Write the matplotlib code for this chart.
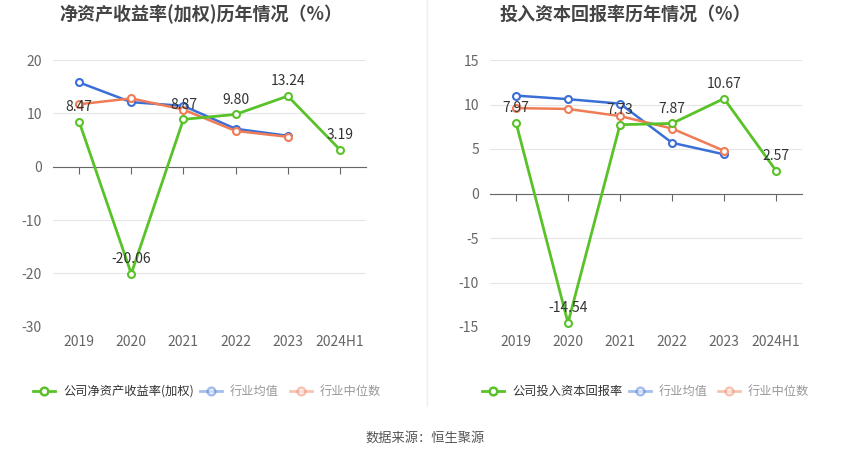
import numpy as np
import matplotlib
matplotlib.use("Agg")
import matplotlib.pyplot as plt
from matplotlib.lines import Line2D
import matplotlib.transforms as mtransforms

plt.rcParams['font.family'] = ['Noto Sans CJK SC', 'DejaVu Sans']
plt.rcParams['axes.unicode_minus'] = False

years = ['2019', '2020', '2021', '2022', '2023', '2024H1']

# 净资产收益率(加权)
roe_company = [8.47, -20.06, 8.87, 9.80, 13.24, 3.19]
roe_mean = [15.8, 12.1, 11.4, 7.1, 5.8]
roe_median = [11.7, 12.8, 10.7, 6.7, 5.6]

# 投入资本回报率
roic_company = [7.97, -14.54, 7.73, 7.87, 10.67, 2.57]
roic_mean = [11.0, 10.6, 10.1, 5.7, 4.4]
roic_median = [9.6, 9.5, 8.7, 7.3, 4.8]

GREEN = '#5ac229'
BLUE = '#3a6fd8'
ORANGE = '#f07c56'

W, H = 850, 459
fig = plt.figure(figsize=(W / 100, H / 100), dpi=100)


def px_axes(x0, y0, x1, y1):
    return fig.add_axes([x0 / W, 1 - y1 / H, (x1 - x0) / W, (y1 - y0) / H])


def draw(ax, company, mean, median, ylim, step, title, name, tcx, leg_x):
    x = np.arange(len(years))
    ax.set_xlim(-0.5, len(years) - 0.5)
    ax.set_ylim(*ylim)
    ax.set_yticks(np.arange(ylim[0], ylim[1] + 0.1, step))
    ax.grid(axis='y', color='#e6e6e6', lw=0.8)
    ax.set_axisbelow(True)
    for s in ['top', 'right', 'left']:
        ax.spines[s].set_visible(False)
    ax.spines['bottom'].set_position(('data', 0))
    ax.spines['bottom'].set_color('#666666')
    ax.set_xticks(x)
    ax.set_xticklabels([])
    ax.tick_params(axis='x', length=5, color='#666666', direction='out')
    ax.tick_params(axis='y', length=0, labelcolor='#666666', labelsize=10, pad=8)
    trans = mtransforms.blended_transform_factory(ax.transData, ax.transAxes)
    for i, lab in enumerate(years):
        ax.text(i, -0.03, lab, transform=trans, ha='center', va='top',
                fontsize=10, color='#666666')

    mk = dict(marker='o', markersize=5, markerfacecolor='white', markeredgewidth=1.5)
    ax.plot(x[:len(mean)], mean, color=BLUE, lw=1.8, zorder=3, **mk)
    ax.plot(x[:len(median)], median, color=ORANGE, lw=1.8, zorder=3, **mk)
    ax.plot(x, company, color=GREEN, lw=2, zorder=4, **mk)
    for i, v in enumerate(company):
        ax.annotate(f'{v:.2f}', (i, v), xytext=(0, 5.5), textcoords='offset points',
                    ha='center', va='bottom', fontsize=10, color='#333333', zorder=5)

    fig.text(tcx / W, 1 - 14 / H, title, ha='center', va='center',
             fontsize=13, fontweight='bold', color='#444444')

    # legend
    ly = 1 - 391 / H
    items = [(name, GREEN, 1.0, '#333333'),
             ('行业均值', BLUE, 0.45, '#999999'),
             ('行业中位数', ORANGE, 0.45, '#999999')]
    for (lab, col, a, tc), lx in zip(items, leg_x):
        fig.add_artist(Line2D([lx / W, (lx + 22) / W], [ly, ly], color=col,
                              alpha=a, lw=2))
        fig.add_artist(Line2D([(lx + 11) / W], [ly], marker='o', markersize=5.5,
                              markerfacecolor='white', markeredgecolor=col,
                              markeredgewidth=1.8, alpha=a))
        fig.text((lx + 30) / W, ly, lab, ha='left', va='center', fontsize=8.8,
                 color=tc)


ax1 = px_axes(53, 60, 366, 326.7)
draw(ax1, roe_company, roe_mean, roe_median, (-30, 20), 10,
     '净资产收益率(加权)历年情况（%）', '公司净资产收益率(加权)', 201, [33, 200, 290])

ax2 = px_axes(490, 60, 802, 327)
draw(ax2, roic_company, roic_mean, roic_median, (-15, 15), 5,
     '投入资本回报率历年情况（%）', '公司投入资本回报率', 625, [482, 629, 718])

fig.add_artist(Line2D([427 / W, 427 / W], [1 - 405 / H, 1.0], color='#eeeeee', lw=1))
fig.text(425 / W, 1 - 438 / H, '数据来源：恒生聚源', ha='center', va='center',
         fontsize=9.5, color='#555555')

fig.savefig('out.png', dpi=100)
